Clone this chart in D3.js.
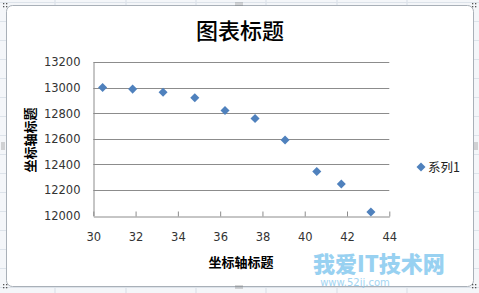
<!DOCTYPE html>
<html>
<head>
<meta charset="utf-8">
<script src="https://cdn.jsdelivr.net/npm/d3@7"></script>
<style>
  body { margin: 0; background: #fff; }
  svg { display: block; }
</style>
</head>
<body>
<svg id="chart" width="479" height="293"></svg>
<script>
// 数据
const xValues = [30.44, 31.86, 33.3, 34.8, 36.23, 37.65, 39.07, 40.57, 41.73, 43.13];
const yValues = [13003, 12990, 12966, 12922, 12823, 12760, 12592, 12345, 12247, 12028];
const xTicks = [30, 32, 34, 36, 38, 40, 42, 44];
const yTicks = [12000, 12200, 12400, 12600, 12800, 13000, 13200];
const titleText = "图表标题";
const xTitleText = "坐标轴标题";
const yTitleText = "坐标轴标题";
const seriesName = "系列1";

const svg = d3.select('#chart');
const W = 479, H = 293;
const cjk = "'Noto Sans CJK SC', sans-serif";
const num = "'DejaVu Sans', Verdana, sans-serif";

// excel 背景格子
svg.append("rect").attr("width", W).attr("height", H).attr("fill", "#f4f6f9");
const colX = [55, 126, 196, 266, 337, 407];
colX.forEach(x => svg.append("line").attr("x1", x).attr("x2", x).attr("y1", 0).attr("y2", H)
  .attr("stroke", "#d6dde6").attr("stroke-width", 1));
for (let y = 2; y < H; y += 19) {
  svg.append("line").attr("x1", 0).attr("x2", W).attr("y1", y + 0.5).attr("y2", y + 0.5)
    .attr("stroke", "#dde3ea").attr("stroke-width", 1);
}

// 图表区域
svg.append("rect").attr("x", 6.5).attr("y", 5.5).attr("width", 467).attr("height", 281)
  .attr("rx", 6).attr("fill", "#fff").attr("stroke", "#a9b0b8").attr("stroke-width", 1);

// 控制点
function handle(cx, cy, horiz) {
  const pts = horiz ? [[-3, -1], [-1, -1], [1, -1], [3, -1], [-3, 1], [-1, 1], [1, 1], [3, 1]]
                    : [[-1, -3], [-1, -1], [-1, 1], [-1, 3], [1, -3], [1, -1], [1, 1], [1, 3]];
  pts.forEach(p => svg.append("rect").attr("x", cx + p[0] - 0.5).attr("y", cy + p[1] - 0.5)
    .attr("width", 1).attr("height", 1).attr("fill", "#666"));
}
[[5, 5], [474, 5], [5, 286], [474, 286]].forEach(c => {
  [[-1, -1], [1, -1], [-1, 1], [1, 1]].forEach(p => svg.append("rect")
    .attr("x", c[0] + p[0] * 1.5 - 0.5).attr("y", c[1] + p[1] * 1.5 - 0.5)
    .attr("width", 1.3).attr("height", 1.3).attr("fill", "#555"));
});
handle(239, 4, true);
handle(239, 287, true);
handle(3, 146, false);
handle(476, 146, false);

// 比例尺
const xScale = d3.scaleLinear().domain([30, 44]).range([93.3, 389.3]);
const yScale = d3.scaleLinear().domain([12000, 13200]).range([215.5, 62.3]);

// 网格线
yTicks.forEach(t => {
  if (t === 12000) return;
  svg.append("line").attr("x1", xScale(30)).attr("x2", xScale(44))
    .attr("y1", Math.round(yScale(t)) + 0.5).attr("y2", Math.round(yScale(t)) + 0.5)
    .attr("stroke", "#8c8c8c").attr("stroke-width", 1);
});

// 坐标轴
const xAxisY = Math.round(yScale(12000)) + 0.5;
const xAxis = d3.axisBottom(xScale).tickValues(xTicks).tickFormat(d3.format("d"))
  .tickSize(-5).tickPadding(16).tickSizeOuter(0);
const gx = svg.append("g").attr("transform", `translate(0,${xAxisY})`).call(xAxis);
gx.select(".domain").attr("stroke", "#8c8c8c");
gx.selectAll(".tick line").attr("stroke", "#8c8c8c");
gx.selectAll(".tick text").attr("fill", "#333").attr("font-size", 11.5).attr("font-family", num);

const yAxis = d3.axisLeft(yScale).tickValues(yTicks).tickFormat(d3.format("d"))
  .tickSize(0).tickPadding(13);
const gy = svg.append("g").attr("transform", `translate(${Math.round(xScale(30)) + 0.5},0)`).call(yAxis);
gy.select(".domain").attr("stroke", "#8c8c8c");
gy.selectAll(".tick text").attr("fill", "#333").attr("font-size", 11.5).attr("font-family", num);

// 数据点（菱形）
const diamond = d3.symbol().type(d3.symbolDiamond2).size(52);
svg.append("g").selectAll("path").data(xValues).join("path")
  .attr("d", diamond)
  .attr("transform", (d, i) => `translate(${xScale(d)},${yScale(yValues[i])})`)
  .attr("fill", "#4f81bd");

// 标题
svg.append("text").text(titleText).attr("x", 240).attr("y", 39)
  .attr("text-anchor", "middle").attr("font-size", 22).attr("font-family", cjk)
  .attr("font-weight", 500).attr("fill", "#000");

svg.append("text").text(xTitleText).attr("x", 241).attr("y", 267)
  .attr("text-anchor", "middle").attr("font-size", 13).attr("font-family", cjk)
  .attr("font-weight", 700).attr("fill", "#000");

svg.append("text").text(yTitleText)
  .attr("transform", "translate(35,140) rotate(-90)")
  .attr("text-anchor", "middle").attr("font-size", 13).attr("font-family", cjk)
  .attr("font-weight", 700).attr("fill", "#000");

// 图例
svg.append("path").attr("d", diamond).attr("transform", "translate(421,167)").attr("fill", "#4f81bd");
svg.append("text").text(seriesName).attr("x", 428).attr("y", 172)
  .attr("font-size", 12.5).attr("font-family", cjk).attr("fill", "#222");

// 水印
svg.append("text").text("我爱IT技术网").attr("x", 313).attr("y", 272)
  .attr("font-size", 22).attr("font-family", cjk).attr("font-weight", 900)
  .attr("fill", "#7fc6ee").attr("opacity", 0.8);
svg.append("text").text("www.52ij.com").attr("x", 355).attr("y", 286)
  .attr("text-anchor", "middle").attr("font-size", 10).attr("font-family", num)
  .attr("fill", "#8ccbef").attr("opacity", 0.8);
</script>
</body>
</html>
